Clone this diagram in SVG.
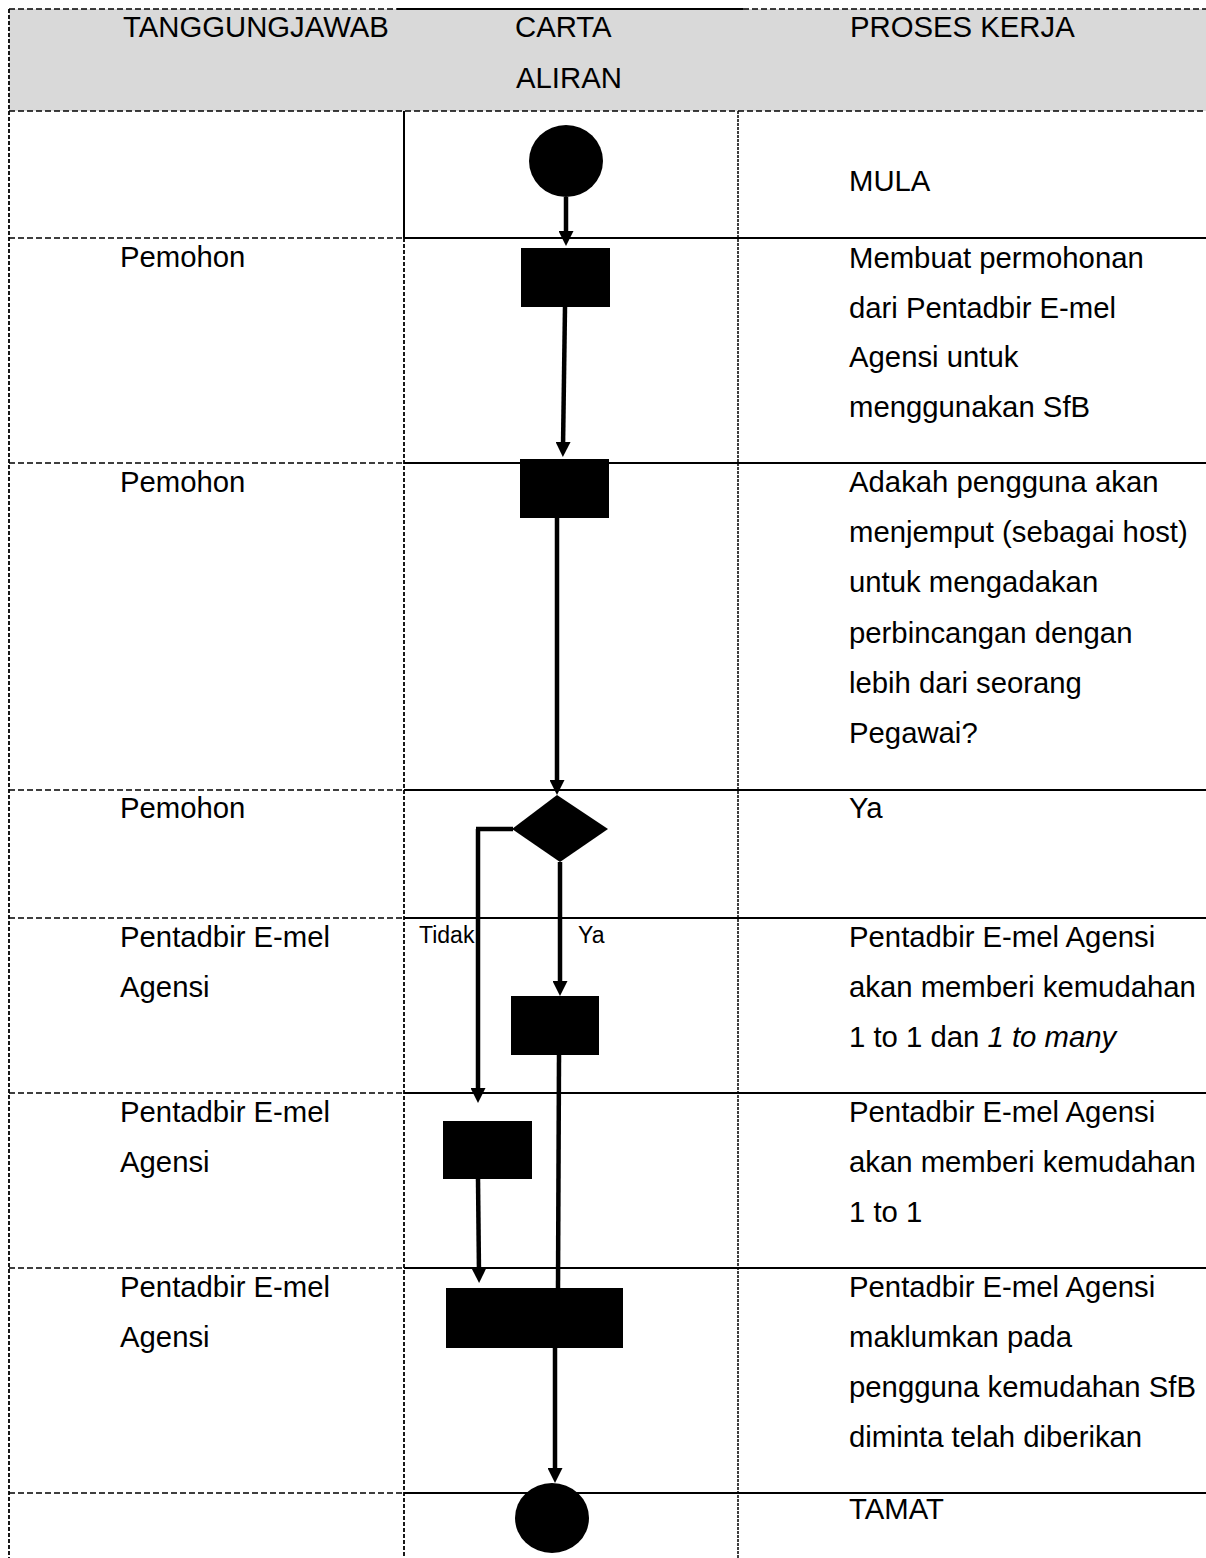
<svg xmlns="http://www.w3.org/2000/svg" width="1206" height="1558" viewBox="0 0 1206 1558">
<defs>
<marker id="arr" viewBox="0 0 15 15" markerWidth="15" markerHeight="15" refX="5" refY="7.5" orient="auto" markerUnits="userSpaceOnUse">
<path d="M0,0 L15,7.5 L0,15 Z" fill="#000"/>
</marker>
</defs>
<style>
text{font-family:"Liberation Sans",Arial,sans-serif;font-size:29.3px;fill:#000}
.lbl{font-size:23px}
.it{font-style:italic}
.dh{stroke:#000;stroke-width:1.6;stroke-dasharray:6 3;fill:none}
.dv{stroke:#000;stroke-width:1.8;stroke-dasharray:4 2;fill:none}
.dv2{stroke:#000;stroke-width:1.5;stroke-dasharray:3 1;fill:none}
.sl{stroke:#000;stroke-width:2;fill:none}
.cn{stroke:#000;stroke-width:4.5;fill:none}
.shape{fill:#000}
</style>
<rect x="9" y="9" width="1197" height="102" fill="#d9d9d9"/>
<g id="grid">
<line class="dh" x1="9" y1="9" x2="397" y2="9"/>
<line class="sl" x1="397" y1="9" x2="743" y2="9"/>
<line class="dh" x1="743" y1="9" x2="1206" y2="9"/>
<line class="dh" x1="9" y1="111" x2="1206" y2="111"/>
<line class="dv" x1="9" y1="9" x2="9" y2="1558"/>
<line class="sl" x1="404" y1="111" x2="404" y2="238"/>
<line class="dv" x1="404" y1="238" x2="404" y2="1558"/>
<line class="dv2" x1="738" y1="111" x2="738" y2="1558"/>
<line class="dh" x1="9" y1="238" x2="404" y2="238"/><line class="sl" x1="404" y1="238" x2="1206" y2="238"/>
<line class="dh" x1="9" y1="463" x2="404" y2="463"/><line class="sl" x1="404" y1="463" x2="1206" y2="463"/>
<line class="dh" x1="9" y1="790" x2="404" y2="790"/><line class="sl" x1="404" y1="790" x2="1206" y2="790"/>
<line class="dh" x1="9" y1="918" x2="404" y2="918"/><line class="sl" x1="404" y1="918" x2="1206" y2="918"/>
<line class="dh" x1="9" y1="1093" x2="404" y2="1093"/><line class="sl" x1="404" y1="1093" x2="1206" y2="1093"/>
<line class="dh" x1="9" y1="1268" x2="404" y2="1268"/><line class="sl" x1="404" y1="1268" x2="1206" y2="1268"/>
<line class="dh" x1="9" y1="1493" x2="404" y2="1493"/><line class="sl" x1="404" y1="1493" x2="1206" y2="1493"/>
</g>
<g id="header">
<text x="123" y="37">TANGGUNGJAWAB</text>
<text x="515" y="37">CARTA</text>
<text x="516" y="88">ALIRAN</text>
<text x="850" y="37">PROSES KERJA</text>
</g>
<g id="connectors">
<line class="cn" x1="566" y1="197" x2="566" y2="236" marker-end="url(#arr)"/>
<line class="cn" x1="565" y1="307" x2="563" y2="447" marker-end="url(#arr)"/>
<line class="cn" x1="557" y1="518" x2="557" y2="785" marker-end="url(#arr)"/>
<polyline class="cn" points="513,829 476,829 478,829 478,1093" marker-end="url(#arr)"/>
<line class="cn" x1="560" y1="862" x2="560" y2="986" marker-end="url(#arr)"/>
<line class="cn" x1="478" y1="1179" x2="479" y2="1273" marker-end="url(#arr)"/>
<line class="cn" x1="559" y1="1055" x2="558" y2="1290"/>
<line class="cn" x1="555" y1="1348" x2="555" y2="1473" marker-end="url(#arr)"/>
<text class="lbl" x="419" y="943">Tidak</text>
<text class="lbl" x="578" y="943">Ya</text>
</g>
<g id="n-mula">
<ellipse class="shape" cx="566" cy="161" rx="37" ry="36"/>
<text x="849" y="191">MULA</text>
</g>
<g id="n-mohon">
<rect class="shape" x="521" y="248" width="89" height="59"/>
<text x="120" y="267">Pemohon</text>
<text x="849" y="268">Membuat permohonan</text>
<text x="849" y="318">dari Pentadbir E-mel</text>
<text x="849" y="367">Agensi untuk</text>
<text x="849" y="417">menggunakan SfB</text>
</g>
<g id="n-soalan">
<rect class="shape" x="520" y="459" width="89" height="59"/>
<text x="120" y="492">Pemohon</text>
<text x="849" y="492">Adakah pengguna akan</text>
<text x="849" y="542">menjemput (sebagai host)</text>
<text x="849" y="592">untuk mengadakan</text>
<text x="849" y="643">perbincangan  dengan</text>
<text x="849" y="693">lebih dari seorang</text>
<text x="849" y="743">Pegawai?</text>
</g>
<g id="n-keputusan">
<polygon class="shape" points="557,795 608,829 560,862 512,829"/>
<text x="120" y="818">Pemohon</text>
<text x="849" y="818">Ya</text>
</g>
<g id="n-ya">
<rect class="shape" x="511" y="996" width="88" height="59"/>
<text x="120" y="947">Pentadbir E-mel</text>
<text x="120" y="997">Agensi</text>
<text x="849" y="947">Pentadbir E-mel Agensi</text>
<text x="849" y="997">akan memberi kemudahan</text>
<text x="849" y="1047">1 to 1 dan <tspan class="it">1 to many</tspan></text>
</g>
<g id="n-tidak">
<rect class="shape" x="443" y="1121" width="89" height="58"/>
<text x="120" y="1122">Pentadbir E-mel</text>
<text x="120" y="1172">Agensi</text>
<text x="849" y="1122">Pentadbir E-mel Agensi</text>
<text x="849" y="1172">akan memberi kemudahan</text>
<text x="849" y="1222">1 to 1</text>
</g>
<g id="n-maklum">
<rect class="shape" x="446" y="1288" width="177" height="60"/>
<text x="120" y="1297">Pentadbir E-mel</text>
<text x="120" y="1347">Agensi</text>
<text x="849" y="1297">Pentadbir E-mel Agensi</text>
<text x="849" y="1347">maklumkan pada</text>
<text x="849" y="1397">pengguna kemudahan SfB</text>
<text x="849" y="1447">diminta telah diberikan</text>
</g>
<g id="n-tamat">
<ellipse class="shape" cx="552" cy="1518" rx="37" ry="35"/>
<text x="849" y="1519">TAMAT</text>
</g>
</svg>
